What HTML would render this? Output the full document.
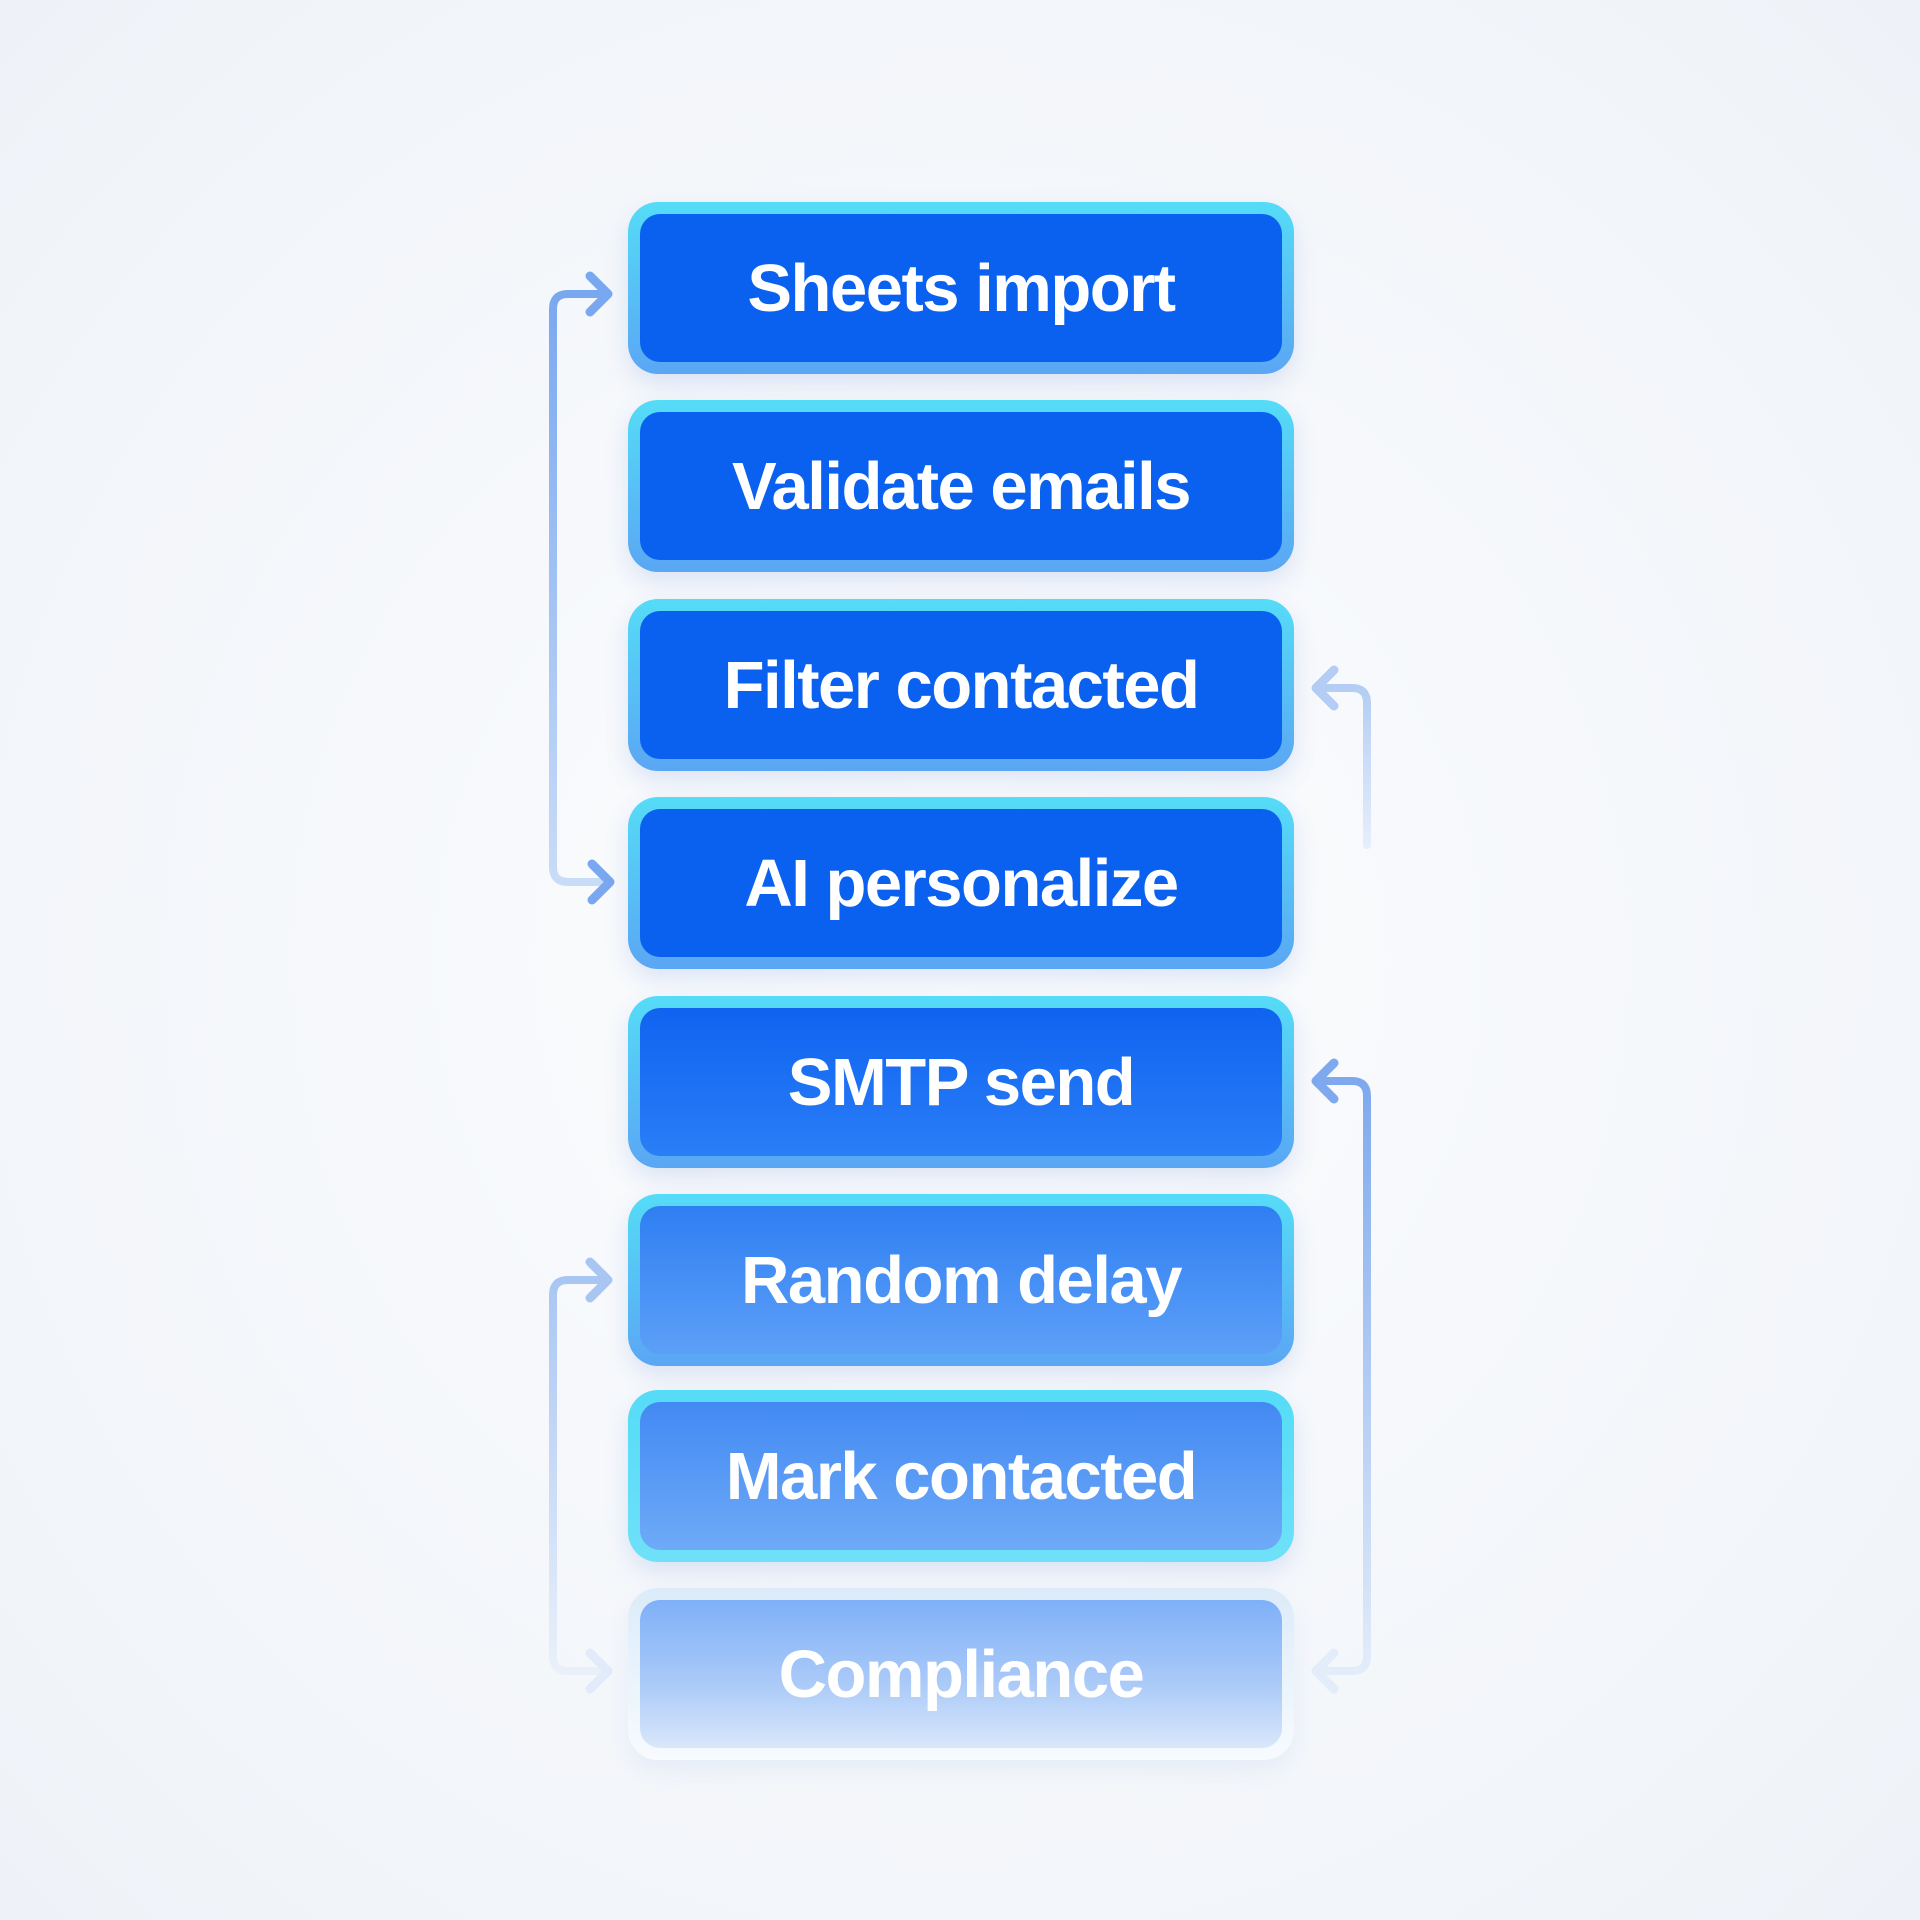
<!DOCTYPE html>
<html><head><meta charset="utf-8"><style>
html,body{margin:0;padding:0}
body{width:1920px;height:1920px;background:radial-gradient(ellipse at center,#fbfcfe 0%,#f3f6fa 70%,#eef2f8 100%);position:relative;overflow:hidden;font-family:"Liberation Sans",sans-serif}
.b{position:absolute;left:628px;width:666px;height:172px;border-radius:30px;box-sizing:border-box;padding:12px;background:linear-gradient(#55dcf7,#5aa6f4);box-shadow:0 10px 24px rgba(60,110,200,0.15)}
.i{width:100%;height:100%;border-radius:20px;display:flex;align-items:center;justify-content:center;color:#fff;font-weight:bold;font-size:67px;letter-spacing:-1.5px;background:#0a61ef}
svg{position:absolute;left:0;top:0}
</style></head><body>
<svg width="1920" height="1920">
<defs>
<linearGradient id="g1" x1="0" y1="0" x2="0" y2="1"><stop offset="0" stop-color="#7aa8f0"/><stop offset="1" stop-color="#c9dcf7"/></linearGradient>
<linearGradient id="g2" x1="0" y1="0" x2="0" y2="1"><stop offset="0" stop-color="#b3cdf4"/><stop offset="1" stop-color="#e6eefa"/></linearGradient>
<linearGradient id="g3" x1="0" y1="0" x2="0" y2="1"><stop offset="0" stop-color="#a9c6f3"/><stop offset="1" stop-color="#eaf0fa"/></linearGradient>
<linearGradient id="g4" x1="0" y1="0" x2="0" y2="1"><stop offset="0" stop-color="#7ea9ee"/><stop offset="1" stop-color="#e3ecf9"/></linearGradient>
</defs>
<g fill="none" stroke-width="8" stroke-linecap="round" stroke-linejoin="round">
<path d="M605 294 H568 Q553 294 553 309 V867 Q553 882 568 882 H610" stroke="url(#g1)"/>
<path d="M590 276 L608 294 L590 312" stroke="#7aa8f0" stroke-width="9"/>
<path d="M592 864 L610 882 L592 900" stroke="#7aa8f0" stroke-width="9"/>
<path d="M1318 688 H1352 Q1367 688 1367 703 V845" stroke="url(#g2)"/>
<path d="M1334 670 L1316 688 L1334 706" stroke="#b3cdf4" stroke-width="9"/>
<path d="M1318 1081 H1352 Q1367 1081 1367 1096 V1656 Q1367 1671 1352 1671 H1320" stroke="url(#g4)"/>
<path d="M1334 1063 L1316 1081 L1334 1099" stroke="#7ea9ee" stroke-width="9"/>
<path d="M1334 1653 L1316 1671 L1334 1689" stroke="#e3ecf9" stroke-width="9"/>
<path d="M605 1280 H568 Q553 1280 553 1295 V1656 Q553 1671 568 1671 H608" stroke="url(#g3)"/>
<path d="M590 1262 L608 1280 L590 1298" stroke="#a9c6f3" stroke-width="9"/>
<path d="M590 1653 L608 1671 L590 1689" stroke="#e2ebf9" stroke-width="9"/>
</g>
</svg>
<div class="b" style="top:202px"><div class="i">Sheets import</div></div>
<div class="b" style="top:400px"><div class="i">Validate emails</div></div>
<div class="b" style="top:599px"><div class="i">Filter contacted</div></div>
<div class="b" style="top:797px"><div class="i">AI personalize</div></div>
<div class="b" style="top:996px"><div class="i" style="background:linear-gradient(#0f63f0,#2a7ef7)">SMTP send</div></div>
<div class="b" style="top:1194px"><div class="i" style="background:linear-gradient(#2f7ff3,#5c9ff7)">Random delay</div></div>
<div class="b" style="top:1390px;background:linear-gradient(#55dcf7,#6fe0f8)"><div class="i" style="background:linear-gradient(#4289f3,#6eaaf7)">Mark contacted</div></div>
<div class="b" style="top:1588px;background:linear-gradient(#dcebfa,#f7fbfe);box-shadow:0 10px 24px rgba(60,110,200,0.08)"><div class="i" style="background:linear-gradient(#7fb0f8,#a9c9f8 55%,#d9e7fa)">Compliance</div></div>
</body></html>
